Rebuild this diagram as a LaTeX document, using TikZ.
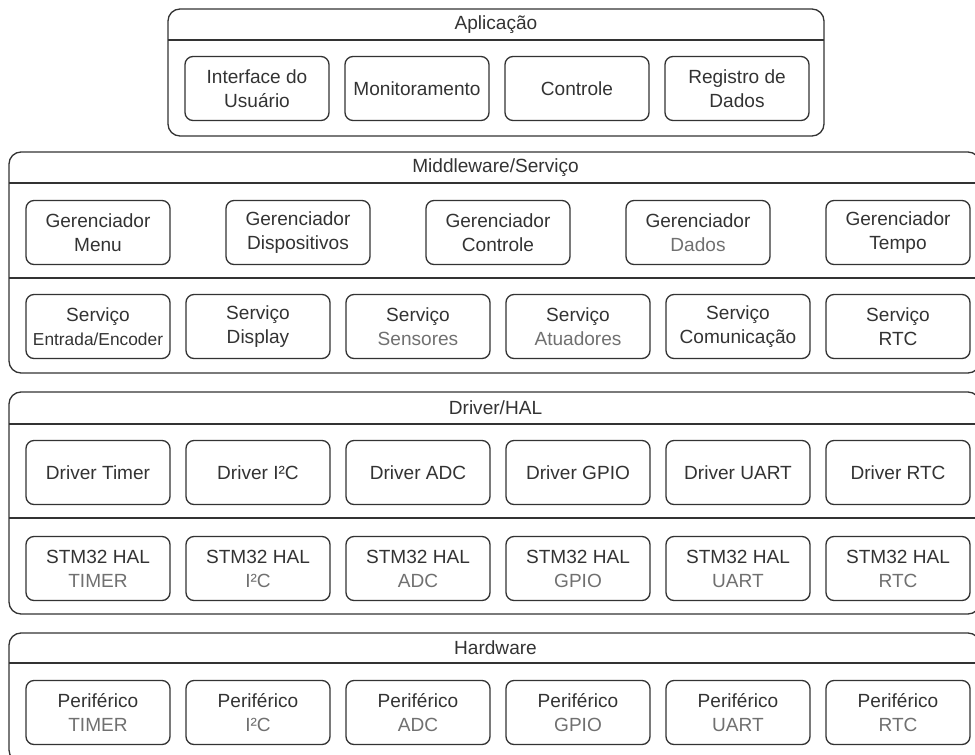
\documentclass[tikz,border=0pt]{standalone}
\usepackage{fontspec}
\setmainfont{Liberation Sans}
\definecolor{linec}{HTML}{333333}
\definecolor{txtdark}{HTML}{333333}
\definecolor{txtgrey}{HTML}{707070}
\tikzset{
  outerbox/.style={draw=linec, line width=1pt, rounded corners=9pt, inner sep=0pt},
  ibox/.style={draw=linec, line width=1pt, rounded corners=6pt, minimum width=108pt,
    minimum height=48pt, inner sep=0pt, align=center, text=txtdark,
    font=\fontsize{14.3}{18}\selectfont},
  ttl/.style={inner sep=0pt, text=txtdark, font=\fontsize{14.3}{18}\selectfont},
  hline/.style={draw=linec, line width=1pt}
}
\newcommand{\gry}[1]{{\color{txtgrey}#1}}
\begin{document}
\begin{tikzpicture}[x=0.75pt, y=-0.75pt]
\useasboundingbox (0,0) rectangle (975,754);
\clip (0,0) rectangle (975,754);

% ---------- Aplicação ----------
\node[outerbox, minimum width=492pt, minimum height=95.25pt] (app) at (496,72.5) {};
\draw[hline] (168,40) -- (824,40);
\node[ttl] (appt) at (496,24.5) {Aplicação};
\node[ibox] (a1) at (257,88.5) {Interface do\\Usuário};
\node[ibox] (a2) at (417,88.5) {Monitoramento};
\node[ibox] (a3) at (577,88.5) {Controle};
\node[ibox] (a4) at (737,88.5) {Registro de\\Dados};

% ---------- Middleware/Serviço ----------
\node[outerbox, minimum width=728.25pt, minimum height=165.75pt] (mw) at (494.5,262.5) {};
\draw[hline] (9,183) -- (980,183);
\draw[hline] (9,278) -- (980,278);
\node[ttl] (mwt) at (495.5,167.5) {Middleware/Serviço};
\node[ibox] (g1) at (98,232.5) {Gerenciador\\Menu};
\node[ibox] (g2) at (298,232.5) {Gerenciador\\Dispositivos};
\node[ibox] (g3) at (498,232.5) {Gerenciador\\Controle};
\node[ibox] (g4) at (698,232.5) {Gerenciador\\\gry{Dados}};
\node[ibox] (g5) at (898,232.5) {Gerenciador\\Tempo};
\node[ibox] (s1) at (98,326.5) {Serviço\\{\fontsize{13}{16}\selectfont Entrada/Encoder}};
\node[ibox] (s2) at (258,326.5) {Serviço\\Display};
\node[ibox] (s3) at (418,326.5) {Serviço\\\gry{Sensores}};
\node[ibox] (s4) at (578,326.5) {Serviço\\\gry{Atuadores}};
\node[ibox] (s5) at (738,326.5) {Serviço\\Comunicação};
\node[ibox] (s6) at (898,326.5) {Serviço\\RTC};

% ---------- Driver/HAL ----------
\node[outerbox, minimum width=728.25pt, minimum height=166.5pt] (drv) at (494.5,503) {};
\draw[hline] (9,424) -- (980,424);
\draw[hline] (9,518) -- (980,518);
\node[ttl] (drvt) at (495.5,408) {Driver/HAL};
\node[ibox] (d1) at (98,472.5) {Driver Timer};
\node[ibox] (d2) at (258,472.5) {Driver I²C};
\node[ibox] (d3) at (418,472.5) {Driver ADC};
\node[ibox] (d4) at (578,472.5) {Driver GPIO};
\node[ibox] (d5) at (738,472.5) {Driver UART};
\node[ibox] (d6) at (898,472.5) {Driver RTC};
\node[ibox] (h1) at (98,568.5) {STM32 HAL\\\gry{TIMER}};
\node[ibox] (h2) at (258,568.5) {STM32 HAL\\\gry{I²C}};
\node[ibox] (h3) at (418,568.5) {STM32 HAL\\\gry{ADC}};
\node[ibox] (h4) at (578,568.5) {STM32 HAL\\\gry{GPIO}};
\node[ibox] (h5) at (738,568.5) {STM32 HAL\\\gry{UART}};
\node[ibox] (h6) at (898,568.5) {STM32 HAL\\\gry{RTC}};

% ---------- Hardware ----------
\node[outerbox, minimum width=728.25pt, minimum height=96.75pt] (hw) at (494.5,697.5) {};
\draw[hline] (9,663) -- (980,663);
\node[ttl] (hwt) at (495.5,648) {Hardware};
\node[ibox] (p1) at (98,712.5) {Periférico\\\gry{TIMER}};
\node[ibox] (p2) at (258,712.5) {Periférico\\\gry{I²C}};
\node[ibox] (p3) at (418,712.5) {Periférico\\\gry{ADC}};
\node[ibox] (p4) at (578,712.5) {Periférico\\\gry{GPIO}};
\node[ibox] (p5) at (738,712.5) {Periférico\\\gry{UART}};
\node[ibox] (p6) at (898,712.5) {Periférico\\\gry{RTC}};
\end{tikzpicture}
\end{document}
